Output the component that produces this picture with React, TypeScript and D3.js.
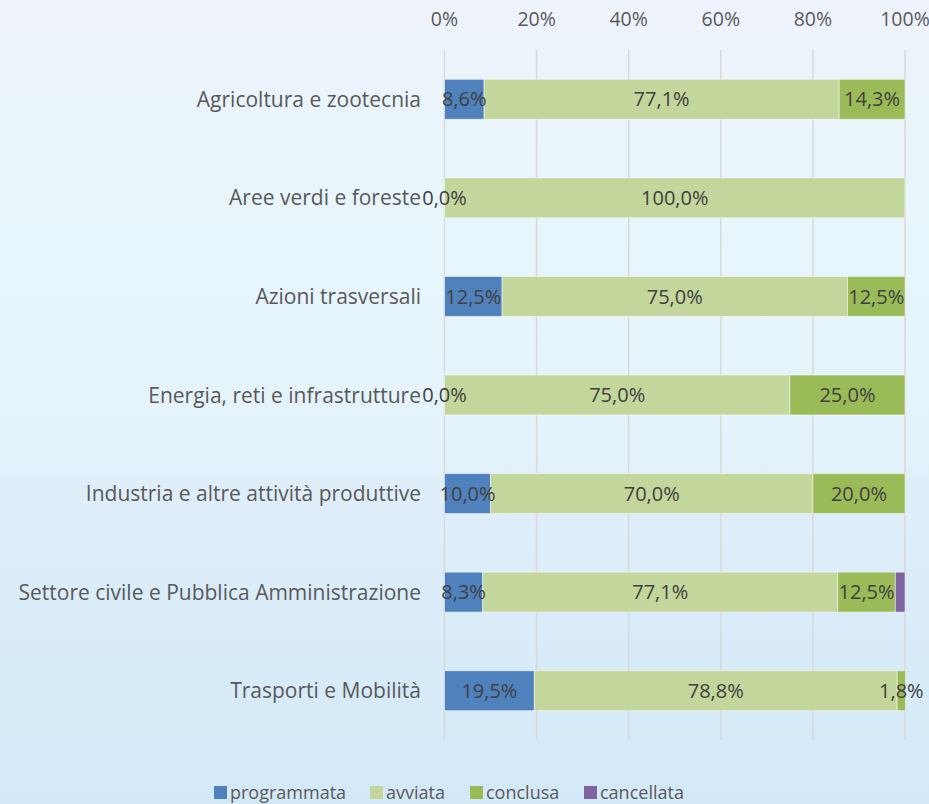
import React from "react";
import * as d3 from "d3";

const categories = [
  "Agricoltura e zootecnia",
  "Aree verdi e foreste",
  "Azioni trasversali",
  "Energia, reti e infrastrutture",
  "Industria e altre attività produttive",
  "Settore civile e Pubblica Amministrazione",
  "Trasporti e Mobilità",
];
const seriesNames = ["programmata", "avviata", "conclusa", "cancellata"];
const programmata = [8.6, 0.0, 12.5, 0.0, 10.0, 8.3, 19.5];
const avviata = [77.1, 100.0, 75.0, 75.0, 70.0, 77.1, 78.8];
const conclusa = [14.3, 0.0, 12.5, 25.0, 20.0, 12.5, 1.8];
const cancellata = [0.0, 0.0, 0.0, 0.0, 0.0, 2.1, 0.0];
const tickValues = [0, 20, 40, 60, 80, 100];
const colors = ["#4F81BD", "#C3D69B", "#9BBB59", "#8064A2"];

const W = 929;
const H = 804;
const FONT = "'Open Sans', 'Liberation Sans', sans-serif";

export default function App() {
  const values = [programmata, avviata, conclusa, cancellata];
  const x = d3.scaleLinear().domain([0, 100]).range([444.5, 905]);
  const y = d3.scaleBand<string>().domain(categories).range([50, 740]).paddingInner(0.595).paddingOuter(0.2975);
  const rows = categories.map((c, i) => {
    const obj: any = { cat: c };
    seriesNames.forEach((s, k) => (obj[s] = values[k][i]));
    return obj;
  });
  const stacked = d3.stack<any>().keys(seriesNames)(rows);
  const fmt = (v: number) => v.toFixed(1).replace(".", ",") + "%";
  const showLabel = (k: number, v: number) => (k === 0 ? true : k === 3 ? false : v > 0);

  const legendItems = [
    { name: "programmata", x: 214 },
    { name: "avviata", x: 370 },
    { name: "conclusa", x: 470 },
    { name: "cancellata", x: 584 },
  ];

  return (
    <svg width={W} height={H} style={{ position: "absolute", left: 0, top: 0 }} fontFamily={FONT}>
      <defs>
        <linearGradient id="bg" x1="0" y1="0" x2="0" y2="1">
          <stop offset="0" stopColor="#EEF2FB" />
          <stop offset="0.22" stopColor="#E8F6FC" />
          <stop offset="0.57" stopColor="#E4F2FB" />
          <stop offset="0.6" stopColor="#E0EEFA" />
          <stop offset="1" stopColor="#D3E9F8" />
        </linearGradient>
      </defs>
      <rect x={0} y={0} width={W} height={H} fill="url(#bg)" />
      {tickValues.map((t) => (
        <g key={t}>
          <line x1={x(t)} x2={x(t)} y1={50} y2={740} stroke="#D9D9D9" strokeWidth={1.5} />
          <text x={x(t)} y={26} textAnchor="middle" fontSize={19.5} fill="#595959">
            {t}%
          </text>
        </g>
      ))}
      {categories.map((c) => (
        <text key={c} x={421} y={(y(c) as number) + y.bandwidth() / 2} dy="0.36em" textAnchor="end" fontSize={21} fill="#595959">
          {c}
        </text>
      ))}
      {stacked.map((layer, k) => (
        <g key={layer.key}>
          {layer.map((d, i) => {
            const w = x(d[1]) - x(d[0]);
            if (w <= 0) return null;
            return (
              <rect
                key={i}
                x={x(d[0])}
                y={y(categories[i]) as number}
                width={w}
                height={y.bandwidth()}
                fill={colors[k]}
                stroke="#FFFFFF"
                strokeOpacity={0.5}
                strokeWidth={1}
              />
            );
          })}
        </g>
      ))}
      {stacked.map((layer, k) => (
        <g key={"l" + layer.key}>
          {layer.map((d, i) => {
            const v = values[k][i];
            if (!showLabel(k, v)) return null;
            return (
              <text
                key={i}
                x={(x(d[0]) + x(d[1])) / 2}
                y={(y(categories[i]) as number) + y.bandwidth() / 2}
                dy="0.36em"
                textAnchor="middle"
                fontSize={20}
                fill="#404040"
              >
                {fmt(v)}
              </text>
            );
          })}
        </g>
      ))}
      {legendItems.map((it, k) => (
        <g key={it.name}>
          <rect x={it.x} y={786} width={13} height={13} fill={colors[k]} />
          <text x={it.x + 16} y={793} dy="0.35em" fontSize={18} fill="#595959">
            {it.name}
          </text>
        </g>
      ))}
    </svg>
  );
}
